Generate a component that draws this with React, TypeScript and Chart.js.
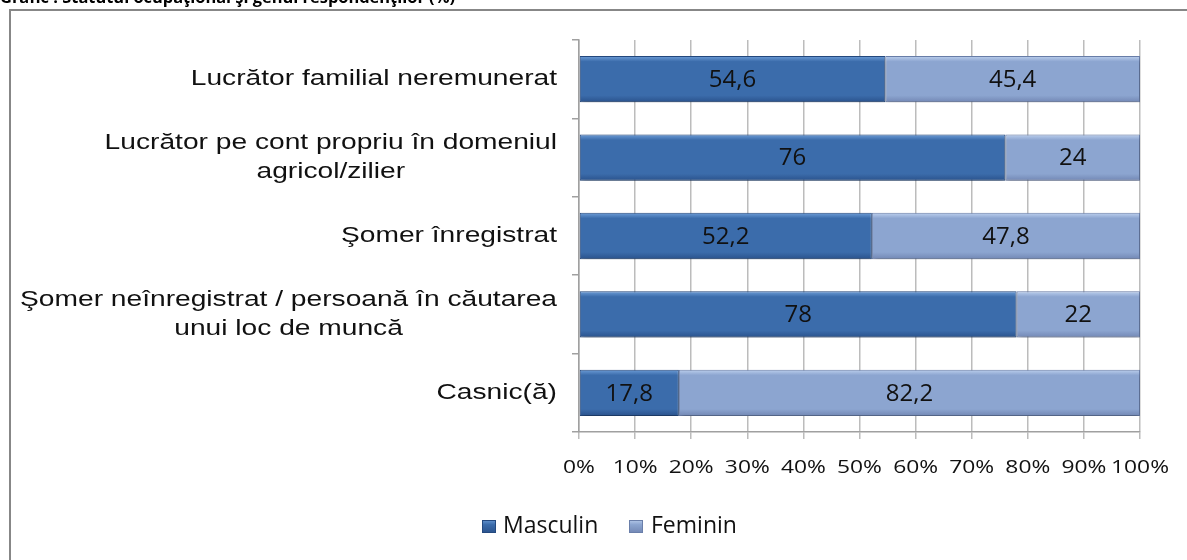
import React, { useEffect, useRef } from "react";
import { Chart, registerables } from "chart.js";
Chart.register(...registerables);

const titleText = "Grafic : Statutul ocupaţional şi genul respondenţilor (%)";
const categories: string[][] = [
  ["Lucrător familial neremunerat"],
  ["Lucrător pe cont propriu în domeniul", "agricol/zilier"],
  ["Şomer înregistrat"],
  ["Şomer neînregistrat / persoană în căutarea", "unui loc de muncă"],
  ["Casnic(ă)"],
];
const masculin = [54.6, 76, 52.2, 78, 17.8];
const feminin = [45.4, 24, 47.8, 22, 82.2];
const seriesNames = ["Masculin", "Feminin"];
const xTickValues = [0, 10, 20, 30, 40, 50, 60, 70, 80, 90, 100];

const palette = [
  { top: "#6E9ED8", main: "#3B6CAB", bottom: "#2A528C", border: "#24497F" },
  { top: "#BDD0EE", main: "#8CA5D0", bottom: "#7287B4", border: "#6A7FAA" },
];

function txt(
  ctx: CanvasRenderingContext2D,
  s: string,
  x: number,
  y: number,
  font: string,
  align: CanvasTextAlign,
  sx = 1,
  color = "#111",
  baseline: CanvasTextBaseline = "middle"
) {
  ctx.save();
  ctx.font = font;
  ctx.fillStyle = color;
  ctx.textAlign = align;
  ctx.textBaseline = baseline;
  ctx.translate(x, y);
  ctx.scale(sx, 1);
  ctx.fillText(s, 0, 0);
  ctx.restore();
}

function barGradient(c: any, dsIndex: number) {
  const chart = c.chart;
  const p = palette[dsIndex];
  const yScale = chart.scales?.y;
  if (!chart.chartArea || !yScale || c.dataIndex === undefined) return p.main;
  const yc = yScale.getPixelForValue(c.dataIndex);
  const band = (yScale.bottom - yScale.top) / categories.length;
  const h = (band * 0.59) / 2;
  const g = chart.ctx.createLinearGradient(0, yc - h, 0, yc + h);
  g.addColorStop(0, p.top);
  g.addColorStop(0.12, p.main);
  g.addColorStop(0.85, p.main);
  g.addColorStop(1, p.bottom);
  return g;
}

const Y_LABEL_FONT = '22px "Liberation Sans"';
const Y_LABEL_SX = 1.28;
const X_LABEL_FONT = '19px "Open Sans"';
const X_LABEL_SX = 1.2;
const DATA_FONT = '24px "Open Sans"';
const LEGEND_FONT = '23px "Open Sans"';

const drawPlugin = {
  id: "customText",
  beforeDraw(chart: any) {
    const ctx = chart.ctx as CanvasRenderingContext2D;
    ctx.save();
    ctx.fillStyle = "#fff";
    ctx.fillRect(0, 0, chart.width, chart.height);
    ctx.strokeStyle = "#878787";
    ctx.lineWidth = 2;
    ctx.beginPath();
    ctx.moveTo(10, chart.height + 5);
    ctx.lineTo(10, 10);
    ctx.lineTo(chart.width + 5, 10);
    ctx.stroke();
    ctx.font = 'bold 16px "Open Sans"';
    const w = ctx.measureText(titleText).width;
    ctx.restore();
    txt(ctx, titleText, 0, 3, 'bold 16px "Open Sans"', "left", 455 / w, "#000", "alphabetic");
  },
  beforeDatasetDraw(chart: any) {
    const ctx = chart.ctx;
    ctx.shadowColor = "rgba(0,0,0,0.28)";
    ctx.shadowBlur = 5;
    ctx.shadowOffsetX = 1;
    ctx.shadowOffsetY = 3;
  },
  afterDatasetDraw(chart: any) {
    const ctx = chart.ctx;
    ctx.shadowColor = "rgba(0,0,0,0)";
    ctx.shadowBlur = 0;
    ctx.shadowOffsetX = 0;
    ctx.shadowOffsetY = 0;
  },
  afterDatasetsDraw(chart: any) {
    const ctx = chart.ctx as CanvasRenderingContext2D;
    chart.data.datasets.forEach((ds: any, di: number) => {
      const meta = chart.getDatasetMeta(di);
      meta.data.forEach((bar: any, i: number) => {
        const { x, y, base } = bar.getProps(["x", "y", "base"], true);
        const cx = (x + base) / 2;
        txt(ctx, String(ds.data[i]).replace(".", ","), cx, y + 1, DATA_FONT, "center", 1, "#111");
      });
    });
  },
  afterDraw(chart: any) {
    const ctx = chart.ctx as CanvasRenderingContext2D;
    const yScale = chart.scales.y;
    const xScale = chart.scales.x;
    const rightX = yScale.right - 22;
    categories.forEach((lines, i) => {
      const yc = yScale.getPixelForValue(i);
      ctx.save();
      ctx.font = Y_LABEL_FONT;
      const widths = lines.map((l) => ctx.measureText(l).width * Y_LABEL_SX);
      ctx.restore();
      const blockW = Math.max(...widths);
      const lh = 29;
      const startY = yc - ((lines.length - 1) * lh) / 2;
      lines.forEach((l, k) => {
        txt(ctx, l, rightX - blockW / 2, startY + k * lh, Y_LABEL_FONT, "center", Y_LABEL_SX, "#111");
      });
    });
    xTickValues.forEach((v) => {
      const px = xScale.getPixelForValue(v);
      txt(ctx, v + "%", px, xScale.top + 36, X_LABEL_FONT, "center", X_LABEL_SX, "#111");
    });
    const ly = 526;
    const items = [
      { x: 482, tx: 503 },
      { x: 629, tx: 651 },
    ];
    seriesNames.forEach((name, i) => {
      const p = palette[i];
      const it = items[i];
      const g = ctx.createLinearGradient(0, ly - 7, 0, ly + 7);
      g.addColorStop(0, p.top);
      g.addColorStop(0.4, p.main);
      g.addColorStop(1, p.bottom);
      ctx.save();
      ctx.fillStyle = g;
      ctx.fillRect(it.x, ly - 6, 14, 13);
      ctx.strokeStyle = p.border;
      ctx.lineWidth = 1;
      ctx.strokeRect(it.x + 0.5, ly - 5.5, 13, 12);
      ctx.restore();
      txt(ctx, name, it.tx, ly, LEGEND_FONT, "left", 1, "#111");
    });
  },
};

export default function App() {
  const ref = useRef<HTMLCanvasElement | null>(null);
  useEffect(() => {
    if (!ref.current) return;
    const chart = new Chart(ref.current, {
      type: "bar",
      data: {
        labels: categories.map((c) => c.join(" ")),
        datasets: [
          {
            label: seriesNames[0],
            data: masculin,
            backgroundColor: (c: any) => barGradient(c, 0),
            borderColor: palette[0].border,
            borderWidth: 1,
            borderSkipped: false,
            barPercentage: 0.59,
            categoryPercentage: 1,
          },
          {
            label: seriesNames[1],
            data: feminin,
            backgroundColor: (c: any) => barGradient(c, 1),
            borderColor: palette[1].border,
            borderWidth: 1,
            borderSkipped: false,
            barPercentage: 0.59,
            categoryPercentage: 1,
          },
        ],
      },
      options: {
        indexAxis: "y",
        responsive: false,
        animation: false,
        devicePixelRatio: 1,
        layout: { padding: { left: 0, right: 47, top: 40, bottom: 0 } },
        plugins: { legend: { display: false }, tooltip: { enabled: false }, title: { display: false } },
        scales: {
          x: {
            stacked: true,
            min: 0,
            max: 100,
            ticks: { display: false, stepSize: 10 },
            grid: { color: "#bcbcbc", lineWidth: 1.5, tickLength: 7, drawTicks: true },
            border: { display: true, color: "#a0a0a0", width: 1.5 },
            afterFit: (s: any) => {
              s.height = 128;
            },
          },
          y: {
            stacked: true,
            ticks: { display: false },
            grid: { drawOnChartArea: false, drawTicks: true, tickLength: 7, color: "#a0a0a0", lineWidth: 1.5, offset: true },
            border: { display: true, color: "#a0a0a0", width: 1.5 },
            afterFit: (s: any) => {
              s.width = 579;
            },
          },
        },
      },
      plugins: [drawPlugin],
    } as any);
    return () => chart.destroy();
  }, []);
  return (
    <div style={{ position: "absolute", left: 0, top: 0, width: 1187, height: 560 }}>
      <canvas ref={ref} width={1187} height={560} style={{ width: 1187, height: 560, display: "block" }} />
    </div>
  );
}
